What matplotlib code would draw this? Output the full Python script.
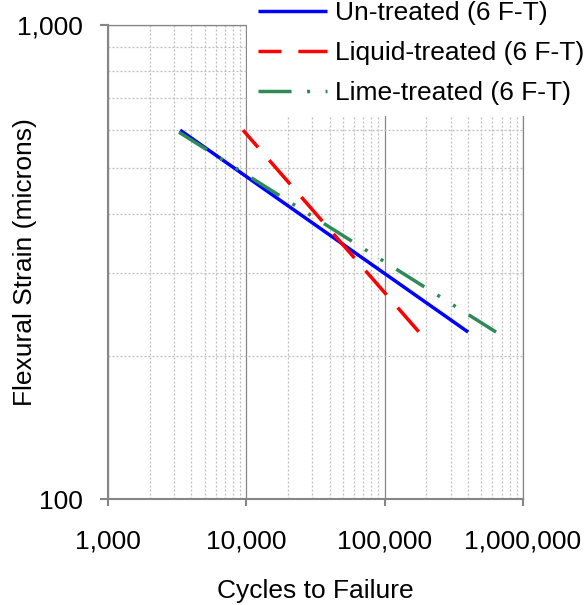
import matplotlib
matplotlib.use("Agg")
import matplotlib.pyplot as plt
import matplotlib.ticker as mticker

plt.rcParams["font.family"] = ["Liberation Sans", "DejaVu Sans"]
plt.rcParams["lines.scale_dashes"] = False

# fitted fatigue lines (cycles, strain in microns)
untreated_cycles = [3320, 401000]
untreated_strain = [600, 225]
liquid_cycles = [9460, 177000]
liquid_strain = [600, 225]
lime_cycles = [3260, 638000]
lime_strain = [594, 225]

labels = ["Un-treated (6 F-T)", "Liquid-treated (6 F-T)", "Lime-treated (6 F-T)"]
colors = ["#0000FF", "#FF0000", "#2E8B57"]

GRID = "#868686"
MINOR = "#BFBFBF"
FS = 19

fig = plt.figure(figsize=(5.88, 6.05), dpi=100)
ax = fig.add_axes([0.1837, 0.1752, 0.7058, 0.7835])

lw = 2.5
ax.plot(untreated_cycles, untreated_strain, color=colors[0], lw=lw,
        solid_capstyle="butt", label=labels[0], zorder=4)
ax.plot(liquid_cycles, liquid_strain, color=colors[1], lw=lw,
        linestyle=(6.5, (23, 12.2)), dash_capstyle="butt", label=labels[1], zorder=4)
ax.plot(lime_cycles, lime_strain, color=colors[2], lw=lw,
        linestyle=(0, (23.8, 11.15, 2.2, 11.15, 2.2, 11.15)), dash_capstyle="butt",
        label=labels[2], zorder=4)

ax.set_xscale("log")
ax.set_yscale("log")
ax.set_xlim(1e3, 1e6)
ax.set_ylim(100, 1000)

fmt = mticker.FuncFormatter(lambda v, _: f"{v:,.0f}")
ax.xaxis.set_major_locator(mticker.LogLocator(base=10))
ax.yaxis.set_major_locator(mticker.LogLocator(base=10))
ax.xaxis.set_minor_locator(mticker.LogLocator(base=10, subs=range(2, 10)))
ax.yaxis.set_minor_locator(mticker.LogLocator(base=10, subs=range(2, 10)))
ax.xaxis.set_major_formatter(fmt)
ax.yaxis.set_major_formatter(fmt)
ax.xaxis.set_minor_formatter(mticker.NullFormatter())
ax.yaxis.set_minor_formatter(mticker.NullFormatter())

ax.grid(which="major", color=GRID, lw=0.9, linestyle="-")
ax.grid(which="minor", color=MINOR, lw=0.9, linestyle=(0, (1.44, 1.44)))
ax.set_axisbelow(True)

for side in ("left", "bottom"):
    ax.spines[side].set_color(GRID)
    ax.spines[side].set_linewidth(1.5)
for side in ("top", "right"):
    ax.spines[side].set_color(GRID)
    ax.spines[side].set_linewidth(0.9)

ax.tick_params(axis="x", which="major", direction="out", length=5, width=1.5,
               color=GRID, labelsize=FS, pad=17)
ax.tick_params(axis="y", which="major", direction="out", length=5.8, width=1.5,
               color=GRID, labelsize=FS, pad=12)
ax.tick_params(which="minor", length=0)

ax.set_xlabel("Cycles to Failure", fontsize=FS)
ax.set_ylabel("Flexural Strain (microns)", fontsize=FS)
ax.xaxis.set_label_coords(0.5, -0.169)
ax.yaxis.set_label_coords(-0.171, 0.5)

leg = ax.legend(loc="upper left", bbox_to_anchor=(0.42, 1.015),
                bbox_transform=fig.transFigure, fontsize=FS, frameon=True,
                fancybox=False, facecolor="white", edgecolor="none",
                framealpha=1, borderpad=0.4, labelspacing=0.6,
                handlelength=2.65, handletextpad=0.27, borderaxespad=0)
leg.set_zorder(10)

fig.savefig("out.png", dpi=100)
